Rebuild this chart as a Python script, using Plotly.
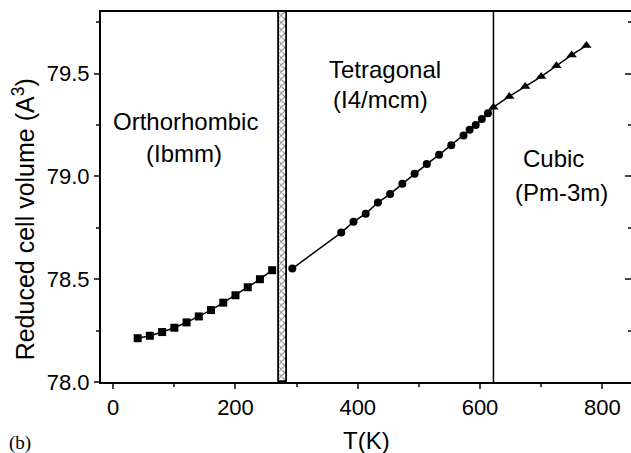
import plotly.graph_objects as go

# Orthorhombic (squares)
t_orth = [40, 60, 80, 100, 120, 140, 160, 180, 200, 220, 240, 260]
v_orth = [78.213, 78.225, 78.243, 78.264, 78.290, 78.319, 78.350, 78.386,
          78.422, 78.461, 78.500, 78.544]

# Tetragonal (circles)
t_tet = [293, 373, 393, 413, 433, 453, 473, 493, 513, 533, 553, 573, 583, 593, 603, 613]
v_tet = [78.552, 78.727, 78.779, 78.819, 78.873, 78.915, 78.964, 79.013,
         79.060, 79.105, 79.152, 79.199, 79.227, 79.250, 79.279, 79.308]

# Cubic (triangles)
t_cub = [622, 648, 674, 700, 725, 750, 774]
v_cub = [79.337, 79.389, 79.438, 79.486, 79.538, 79.591, 79.637]

# phase boundary markers
hatch_lo, hatch_hi = 271, 285
t_cubic_boundary = 622

x_range = [-20, 847]
y_range = [78.0, 79.8]

FONT = "Arial, Liberation Sans, Helvetica, sans-serif"

fig = go.Figure()

# hatched two-phase region
fig.add_trace(go.Bar(
    x=[(hatch_lo + hatch_hi) / 2], y=[y_range[1] - y_range[0]], base=[y_range[0]],
    width=[hatch_hi - hatch_lo],
    marker=dict(color="white", line=dict(color="black", width=1.8),
                pattern=dict(shape="x", size=5, solidity=0.35, fgcolor="black", bgcolor="white")),
    showlegend=False, hoverinfo="skip"))

line_style = dict(color="black", width=1.5)
fig.add_trace(go.Scatter(x=t_orth, y=v_orth, mode="lines+markers", line=line_style,
                         marker=dict(symbol="square", size=8, color="black"), showlegend=False))
fig.add_trace(go.Scatter(x=t_tet, y=v_tet, mode="lines+markers", line=line_style,
                         marker=dict(symbol="circle", size=8, color="black"), showlegend=False))
fig.add_trace(go.Scatter(x=[t_tet[-1]] + t_cub, y=[v_tet[-1]] + v_cub, mode="lines", line=line_style,
                         showlegend=False, hoverinfo="skip"))
fig.add_trace(go.Scatter(x=t_cub, y=v_cub, mode="markers",
                         marker=dict(symbol="triangle-up", size=9, color="black"), showlegend=False))

# invisible trace on right axis for inward ticks
fig.add_trace(go.Scatter(x=[t_orth[0]], y=[v_orth[0]], yaxis="y2", mode="markers",
                         marker=dict(opacity=0), showlegend=False, hoverinfo="skip"))

fig.add_shape(type="line", x0=t_cubic_boundary, x1=t_cubic_boundary, y0=y_range[0], y1=y_range[1],
              xref="x", yref="y", line=dict(color="black", width=1.5))

ann_font = dict(family=FONT, size=24, color="black")
labels = [
    ("Orthorhombic", 119, 79.267), ("(Ibmm)", 115, 79.110),
    ("Tetragonal", 444, 79.519), ("(I4/mcm)", 437, 79.373),
    ("Cubic", 720, 79.086), ("(Pm-3m)", 733, 78.920),
]
for txt, xx, yy in labels:
    fig.add_annotation(x=xx, y=yy, text=txt, showarrow=False, font=ann_font,
                       xanchor="center", yanchor="middle")

# axis titles
fig.add_annotation(xref="paper", yref="paper", x=0.5, y=-0.157, text="T(K)", showarrow=False,
                   font=dict(family=FONT, size=24, color="black"), xanchor="center", yanchor="middle")
fig.add_annotation(xref="paper", yref="paper", x=-0.145, y=0.44,
                   text="Reduced cell volume (A<sup>3</sup>)", textangle=-90, showarrow=False,
                   font=dict(family=FONT, size=25, color="black"), xanchor="center", yanchor="middle")
fig.add_annotation(xref="paper", yref="paper", x=-0.152, y=-0.165, text="(b)", showarrow=False,
                   font=dict(family="Liberation Serif, Times New Roman, serif", size=19, color="black"),
                   xanchor="center", yanchor="middle")

fig.update_layout(
    width=631, height=453,
    margin=dict(l=101, r=0, t=12, b=71),
    paper_bgcolor="white", plot_bgcolor="white",
    font=dict(family=FONT, size=20, color="black"),
    xaxis=dict(range=x_range, tickvals=[0, 200, 400, 600, 800], showline=True, linecolor="black",
               linewidth=2, mirror=True, ticks="outside", ticklen=5, tickwidth=2, showgrid=False,
               zeroline=False, minor=dict(tickvals=[100, 300, 500, 700], ticks="outside", ticklen=3,
                                          tickwidth=1.5, showgrid=False),
               tickfont=dict(size=22)),
    yaxis=dict(range=y_range, tickvals=[78.0, 78.5, 79.0, 79.5], ticktext=["78.0", "78.5", "79.0", "79.5"],
               showline=True, linecolor="black", linewidth=2, ticks="outside", ticklen=5, tickwidth=2,
               showgrid=False, zeroline=False,
               minor=dict(tickvals=[78.25, 78.75, 79.25, 79.75], ticks="outside", ticklen=3,
                          tickwidth=1.5, showgrid=False),
               tickfont=dict(size=22)),
    yaxis2=dict(range=y_range, overlaying="y", side="right", showline=False, ticks="inside",
                ticklen=6, tickwidth=2, tickvals=[78.0, 78.5, 79.0, 79.5], showticklabels=False,
                showgrid=False, zeroline=False,
                minor=dict(tickvals=[78.25, 78.75, 79.25, 79.75], ticks="inside", ticklen=3,
                           tickwidth=1.5, showgrid=False)),
    bargap=0,
)

fig.write_html("out.html")
